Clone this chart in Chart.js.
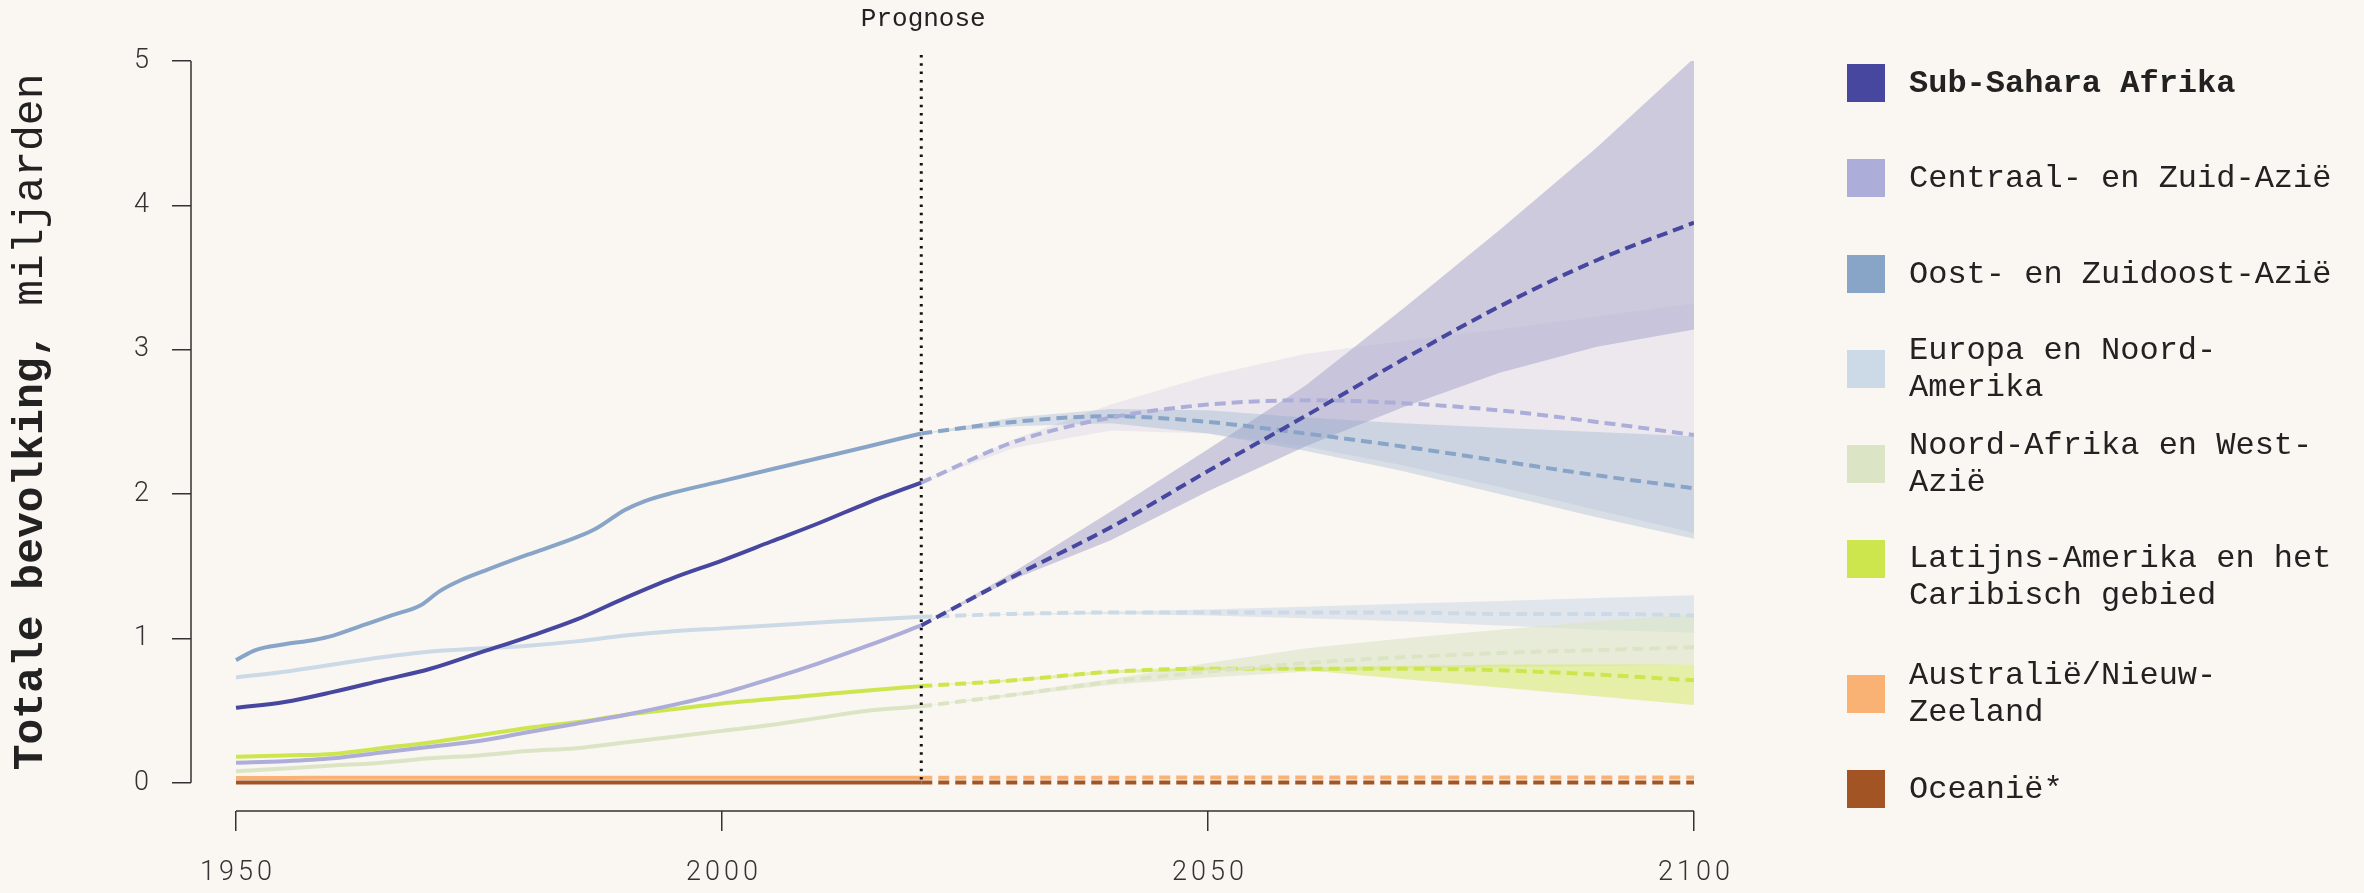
<!DOCTYPE html>
<html>
<head>
<meta charset="utf-8">
<script src="https://cdn.jsdelivr.net/npm/chart.js@4"></script>
<style>
  body { margin: 0; background: #faf6f2; }
  #wrap { position: relative; width: 2364px; height: 893px; }
  .item { position: absolute; left: 1847px; display: flex; align-items: center; }
  .item.top { align-items: flex-start; }
  .sw { width: 38px; height: 38px; flex: none; margin-right: 24px; }
  .lbl { width: 432px; font: 32px "Courier New", "Liberation Mono", monospace; line-height: 37px; color: #222; }
  .lbl.bold { font-weight: bold; }
</style>
</head>
<body>
<div id="wrap">
  <canvas id="chart" width="2364" height="893"></canvas>
  <div id="legend"></div>
</div>
<script>
// regions, in legend order
const REGIONS = [
  "Sub-Sahara Afrika",
  "Centraal- en Zuid-Azië",
  "Oost- en Zuidoost-Azië",
  "Europa en Noord-Amerika",
  "Noord-Afrika en West-Azië",
  "Latijns-Amerika en het Caribisch gebied",
  "Australië/Nieuw-Zeeland",
  "Oceanië*",
];

// years (historical up to the forecast line, projections after it)
const HIST_YEARS = [1950, 1955, 1960, 1965, 1970, 1975, 1980, 1985, 1990, 1995, 2000, 2005, 2010, 2015, 2020.5];
const OOST_HIST_YEARS = [1950, 1952, 1955, 1958, 1960, 1963, 1966, 1969, 1971, 1973, 1976, 1980, 1985, 1987, 1990, 1992, 1995, 2000, 2005, 2010, 2015, 2020.5];
const PROJ_YEARS = [2020.5, 2030, 2040, 2050, 2060, 2070, 2080, 2090, 2100];
const PROGNOSE_YEAR = 2020.5;

const X_TICKS = [1950, 2000, 2050, 2100];
const Y_TICKS = [0, 1, 2, 3, 4, 5];

// population, billions - historical
const ssaHist  = [0.14, 0.15, 0.17, 0.21, 0.25, 0.29, 0.35, 0.41, 0.47, 0.54, 0.62, 0.72, 0.83, 0.95, 1.09];
const csaHist  = [0.52, 0.56, 0.63, 0.71, 0.79, 0.90, 1.01, 1.13, 1.28, 1.42, 1.54, 1.67, 1.80, 1.94, 2.08];
const oostHist = [0.85, 0.92, 0.96, 0.99, 1.02, 1.09, 1.16, 1.23, 1.33, 1.40, 1.48, 1.58, 1.70, 1.76, 1.89, 1.95, 2.01, 2.09, 2.17, 2.25, 2.33, 2.42];
const euroHist = [0.73, 0.77, 0.82, 0.87, 0.91, 0.93, 0.95, 0.98, 1.02, 1.05, 1.07, 1.09, 1.11, 1.13, 1.15];
const nawaHist = [0.08, 0.10, 0.12, 0.14, 0.17, 0.19, 0.22, 0.24, 0.28, 0.32, 0.36, 0.40, 0.45, 0.50, 0.53];
const lacHist  = [0.18, 0.19, 0.20, 0.24, 0.28, 0.33, 0.38, 0.42, 0.47, 0.51, 0.55, 0.58, 0.61, 0.64, 0.67];
const ausHist  = [0.034, 0.034, 0.035, 0.035, 0.035, 0.035, 0.035, 0.035, 0.035, 0.035, 0.035, 0.036, 0.036, 0.036, 0.036];
const oceHist  = [0.002, 0.002, 0.002, 0.002, 0.003, 0.003, 0.003, 0.003, 0.003, 0.003, 0.003, 0.003, 0.003, 0.003, 0.003];

// projections (median)
const ssaProj  = [1.09, 1.43, 1.77, 2.16, 2.54, 2.93, 3.30, 3.62, 3.88];
const csaProj  = [2.08, 2.36, 2.53, 2.62, 2.65, 2.63, 2.58, 2.50, 2.41];
const oostProj = [2.42, 2.50, 2.54, 2.50, 2.42, 2.33, 2.23, 2.13, 2.04];
const euroProj = [1.15, 1.17, 1.18, 1.18, 1.18, 1.18, 1.17, 1.17, 1.16];
const nawaProj = [0.53, 0.61, 0.70, 0.77, 0.83, 0.87, 0.90, 0.92, 0.94];
const lacProj  = [0.67, 0.71, 0.77, 0.79, 0.79, 0.79, 0.78, 0.75, 0.71];
const ausProj  = [0.036, 0.036, 0.036, 0.037, 0.037, 0.037, 0.037, 0.037, 0.037];
const oceProj  = [0.003, 0.003, 0.003, 0.003, 0.003, 0.003, 0.003, 0.003, 0.003];

// uncertainty ranges
const ssaLow   = [1.09, 1.41, 1.68, 2.02, 2.33, 2.60, 2.84, 3.02, 3.14];
const ssaHigh  = [1.09, 1.46, 1.88, 2.31, 2.75, 3.28, 3.83, 4.40, 5.02];
const csaLow   = [2.08, 2.32, 2.44, 2.42, 2.33, 2.20, 2.05, 1.89, 1.73];
const csaHigh  = [2.08, 2.38, 2.62, 2.82, 2.97, 3.06, 3.14, 3.23, 3.32];
const oostLow  = [2.42, 2.47, 2.49, 2.42, 2.30, 2.16, 2.00, 1.84, 1.69];
const oostHigh = [2.42, 2.53, 2.59, 2.58, 2.53, 2.49, 2.46, 2.43, 2.40];
const euroLow  = [1.15, 1.165, 1.17, 1.16, 1.14, 1.12, 1.09, 1.06, 1.04];
const euroHigh = [1.15, 1.17, 1.185, 1.20, 1.22, 1.24, 1.26, 1.28, 1.30];
const nawaLow  = [0.53, 0.60, 0.68, 0.73, 0.77, 0.79, 0.80, 0.81, 0.82];
const nawaHigh = [0.53, 0.62, 0.72, 0.83, 0.93, 1.00, 1.06, 1.12, 1.17];
const lacLow   = [0.67, 0.70, 0.76, 0.78, 0.78, 0.72, 0.66, 0.60, 0.54];
const lacHigh  = [0.67, 0.72, 0.78, 0.80, 0.80, 0.81, 0.82, 0.82, 0.82];

// colours
const COLORS = ["#4747a0", "#adadd9", "#88a5c8", "#ccd9e7", "#dbe5c5", "#cde64e", "#f9b274", "#a35425"];
// the historical lines of the first two regions use each other's colour in the original
const HIST_COLORS = ["#adadd9", "#4747a0", "#88a5c8", "#ccd9e7", "#dbe5c5", "#cde64e", "#f9b274", "#a35425"];
const BAND_COLORS = [
  "rgba(71,71,160,0.25)",
  "rgba(173,173,217,0.18)",
  "rgba(136,165,200,0.30)",
  "rgba(204,217,231,0.55)",
  "rgba(219,229,197,0.60)",
  "rgba(205,230,78,0.45)",
];

const TEXT = "#222";
const AXIS = "#333";

const histSeries = [ssaHist, csaHist, oostHist, euroHist, nawaHist, lacHist, ausHist, oceHist];
const histYears = [HIST_YEARS, HIST_YEARS, OOST_HIST_YEARS, HIST_YEARS, HIST_YEARS, HIST_YEARS, HIST_YEARS, HIST_YEARS];
const projSeries = [ssaProj, csaProj, oostProj, euroProj, nawaProj, lacProj, ausProj, oceProj];
const bands = [[ssaLow, ssaHigh], [csaLow, csaHigh], [oostLow, oostHigh], [euroLow, euroHigh], [nawaLow, nawaHigh], [lacLow, lacHigh]];

const pts = (xs, ys) => xs.map((x, i) => ({ x: x, y: ys[i] }));

let datasets = [];

// bands first (drawn under the lines)
bands.forEach(([low, high], i) => {
  datasets.push({
    data: pts(PROJ_YEARS, high),
    borderColor: "transparent",
    borderWidth: 0,
    backgroundColor: BAND_COLORS[i],
    fill: "+1",
    pointRadius: 0,
    tension: 0,
    order: 20 - i,
  });
  datasets.push({
    data: pts(PROJ_YEARS, low),
    borderColor: "transparent",
    borderWidth: 0,
    fill: false,
    pointRadius: 0,
    tension: 0,
    order: 20 - i,
  });
});

// lines
for (let i = REGIONS.length - 1; i >= 0; i--) {
  datasets.push({
    data: pts(histYears[i], histSeries[i]),
    borderColor: HIST_COLORS[i],
    borderWidth: 4,
    fill: false,
    pointRadius: 0,
    cubicInterpolationMode: "monotone",
    order: i + 1,
  });
  datasets.push({
    data: pts(PROJ_YEARS, projSeries[i]),
    borderColor: COLORS[i],
    borderWidth: 4,
    borderDash: [11, 6],
    fill: false,
    pointRadius: 0,
    cubicInterpolationMode: "monotone",
    order: i + 1,
  });
}

// forecast line, axis lines, x labels, titles
const overlay = {
  id: "overlay",
  afterDatasetsDraw(chart) {
    const ctx = chart.ctx;
    const xs = chart.scales.x, ys = chart.scales.y;
    const px = xs.getPixelForValue(PROGNOSE_YEAR);
    ctx.save();
    ctx.strokeStyle = "#111";
    ctx.lineWidth = 3;
    ctx.setLineDash([2.5, 5.8]);
    ctx.beginPath();
    ctx.moveTo(px, ys.getPixelForValue(5) - 6);
    ctx.lineTo(px, ys.getPixelForValue(0));
    ctx.stroke();
    ctx.restore();
  },
  afterDraw(chart) {
    const ctx = chart.ctx;
    const xs = chart.scales.x, ys = chart.scales.y;
    const area = chart.chartArea;
    ctx.save();

    // axis lines (only across the tick range)
    ctx.strokeStyle = AXIS;
    ctx.lineWidth = 1.5;
    ctx.beginPath();
    ctx.moveTo(area.left, ys.getPixelForValue(5));
    ctx.lineTo(area.left, ys.getPixelForValue(0));
    ctx.moveTo(xs.getPixelForValue(X_TICKS[0]), area.bottom);
    ctx.lineTo(xs.getPixelForValue(X_TICKS[X_TICKS.length - 1]), area.bottom);
    ctx.stroke();

    // x labels, letter spaced
    const spacing = 4;
    ctx.fillStyle = AXIS;
    ctx.font = "300 27px Roboto, 'Liberation Sans', sans-serif";
    ctx.letterSpacing = spacing + "px";
    ctx.textAlign = "center";
    ctx.textBaseline = "middle";
    for (const t of xs.ticks) {
      ctx.fillText(String(t.value), xs.getPixelForValue(t.value) + spacing / 2, area.bottom + 62);
    }
    ctx.letterSpacing = "0px";

    // "Prognose"
    ctx.fillStyle = TEXT;
    ctx.font = "26px 'Courier New', 'Liberation Mono', monospace";
    ctx.textBaseline = "alphabetic";
    ctx.fillText("Prognose", xs.getPixelForValue(PROGNOSE_YEAR) + 2, area.top - 35);

    // y title, bold part + normal part
    const boldPart = "Totale bevolking,";
    const normPart = " miljarden";
    const boldFont = "bold 43px 'Courier New', 'Liberation Mono', monospace";
    const normFont = "43px 'Courier New', 'Liberation Mono', monospace";
    ctx.font = boldFont;
    const w1 = ctx.measureText(boldPart).width;
    ctx.font = normFont;
    const w2 = ctx.measureText(normPart).width;
    const cy = (ys.getPixelForValue(0) + ys.getPixelForValue(5)) / 2;
    ctx.translate(42, cy);
    ctx.rotate(-Math.PI / 2);
    ctx.textAlign = "left";
    ctx.font = boldFont;
    ctx.fillText(boldPart, -(w1 + w2) / 2, 0);
    ctx.font = normFont;
    ctx.fillText(normPart, -(w1 + w2) / 2 + w1, 0);

    ctx.restore();
  },
};

new Chart(document.getElementById("chart"), {
  type: "line",
  data: { datasets: datasets },
  options: {
    responsive: false,
    animation: false,
    layout: { padding: { left: 0, top: 61, right: 670, bottom: 0 } },
    plugins: { legend: { display: false }, tooltip: { enabled: false } },
    scales: {
      x: {
        type: "linear",
        min: 1945.37,
        max: 2100,
        afterBuildTicks: (s) => { s.ticks = X_TICKS.map((v) => ({ value: v })); },
        afterFit: (s) => { s.height = 82; },
        border: { display: false },
        grid: { drawOnChartArea: false, drawTicks: true, tickLength: 20, color: AXIS, lineWidth: 1.5 },
        ticks: { display: false },
      },
      y: {
        min: -0.195,
        max: 5,
        afterBuildTicks: (s) => { s.ticks = Y_TICKS.map((v) => ({ value: v })); },
        afterFit: (s) => { s.width = 191; },
        border: { display: false },
        grid: { drawOnChartArea: false, drawTicks: true, tickLength: 19, color: AXIS, lineWidth: 1.5 },
        ticks: { padding: 23, color: AXIS, font: { family: "Roboto, 'Liberation Sans', sans-serif", size: 27, weight: 300 } },
      },
    },
  },
  plugins: [overlay],
});

// legend (HTML, to the right of the plot)
const LEGEND_TOPS = [64, 159, 255, 332, 427, 540, 657, 770];
const legend = document.getElementById("legend");
REGIONS.forEach((name, i) => {
  const item = document.createElement("div");
  item.className = "item" + (i == 5 ? " top" : "");
  item.style.top = LEGEND_TOPS[i] + "px";
  const sw = document.createElement("span");
  sw.className = "sw";
  sw.style.background = COLORS[i];
  const lbl = document.createElement("span");
  lbl.className = "lbl" + (i == 0 ? " bold" : "");
  lbl.textContent = name;
  item.appendChild(sw);
  item.appendChild(lbl);
  legend.appendChild(item);
});
</script>
</body>
</html>
